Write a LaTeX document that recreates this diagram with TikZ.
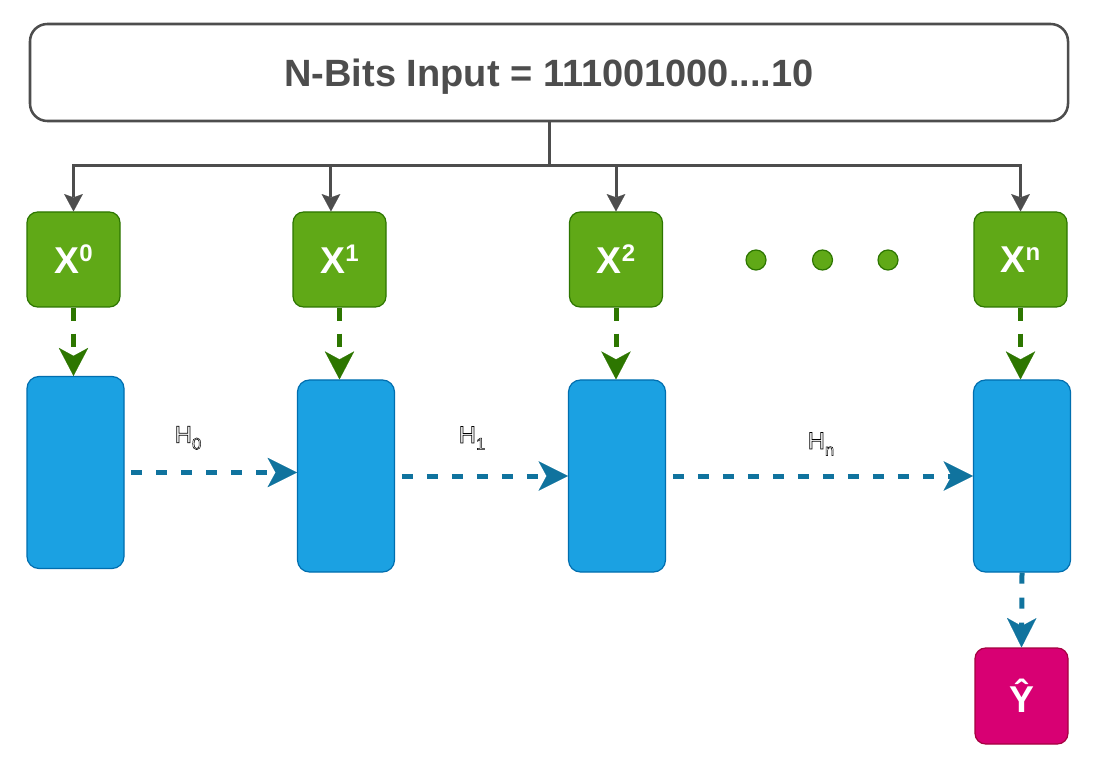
\documentclass[tikz,border=0pt]{standalone}
\usepackage{fontspec}
\setmainfont{Liberation Sans}
\newfontfamily\hfont{Liberation Sans}[FakeBold=3]
\usetikzlibrary{arrows.meta}
\definecolor{cgray}{HTML}{4D4D4D}
\definecolor{gfill}{HTML}{60A917}
\definecolor{gdraw}{HTML}{2D7600}
\definecolor{bfill}{HTML}{1BA1E2}
\definecolor{bdraw}{HTML}{006EAF}
\definecolor{barrow}{HTML}{10739E}
\definecolor{mfill}{HTML}{D80073}
\definecolor{mdraw}{HTML}{A50040}
\newcommand{\xsup}[2]{X\raisebox{9pt}{\fontsize{18}{20}\selectfont #2}}
\newcommand{\hlab}[1]{\color{white}\special{pdf:literal direct 0 0 0 RG}\hfont\fontsize{18}{20}\selectfont H\raisebox{-5pt}{\fontsize{12.5}{14}\selectfont #1}}
\tikzset{
  topbox/.style={draw=cgray, line width=1.9pt, rounded corners=13pt, fill=white,
    minimum width=778.5pt, minimum height=72.75pt, inner sep=0pt, text depth=0pt,
    text=cgray, font=\fontsize{28.5}{34}\selectfont\bfseries},
  gbox/.style={fill=gfill, draw=gdraw, line width=0.9pt, rounded corners=8pt,
    minimum width=69.75pt, minimum height=71.25pt, inner sep=0pt,
    text=white, font=\fontsize{28}{34}\selectfont\bfseries},
  bbox/.style={fill=bfill, draw=bdraw, line width=0.9pt, rounded corners=9pt,
    minimum width=72.75pt, minimum height=144pt, inner sep=0pt},
  ybox/.style={fill=mfill, draw=mdraw, line width=0.9pt, rounded corners=8pt,
    minimum width=69.75pt, minimum height=72pt, inner sep=0pt,
    text=white, font=\fontsize{28}{32}\selectfont\bfseries},
  gdot/.style={circle, fill=gfill, draw=gdraw, line width=0.9pt, minimum size=15pt, inner sep=0pt},
  treeline/.style={draw=cgray, line width=2.25pt},
  treearrow/.style={draw=cgray, line width=2.25pt,
    -{Stealth[length=13pt,width=14pt,inset=2.5pt,line width=0.1pt]}},
  garrow/.style={draw=gdraw, line width=3.75pt, dash pattern=on 9.75pt off 9.75pt,
    -{Stealth[length=21pt,width=22pt,inset=6pt,line width=0.1pt]}},
  barrowstyle/.style={draw=barrow, line width=3.75pt, dash pattern=on 8.25pt off 10.5pt,
    -{Stealth[length=22pt,width=22pt,inset=6pt,line width=0.1pt]}},
  hlabel/.style={inner sep=0pt},
}
\begin{document}
\begin{tikzpicture}[x=0.75pt,y=-0.75pt]
\useasboundingbox[fill=white] (0,0) rectangle (1105,762);
% top input box
\node[topbox] (top) at (549,72.5) {N-Bits Input = 111001000....10};
% green input boxes
\node[gbox] (g0) at (73.5,259.5) {\xsup{X}{0}};
\node[gbox] (g1) at (339.5,259.5) {\xsup{X}{1}};
\node[gbox] (g2) at (616,259.5) {\xsup{X}{2}};
\node[gbox] (gn) at (1020.5,259.5) {\xsup{X}{n}};
% dots
\node[gdot] (d1) at (756,260) {};
\node[gdot] (d2) at (822.5,260) {};
\node[gdot] (d3) at (888,260) {};
% blue boxes
\node[bbox] (b0) at (75.5,472.5) {};
\node[bbox] (b1) at (346,476) {};
\node[bbox] (b2) at (617,476) {};
\node[bbox] (bn) at (1022,476) {};
% output
\node[ybox] (y) at (1021.5,696) {Ŷ};
% tree
\coordinate (hub) at (549,166);
\coordinate (t1) at ([xshift=-6.4pt]g1.north);
\draw[treeline] (top.south) -- (hub);
\draw[treeline, line cap=rect] (hub -| g0.north) -- (hub -| gn.north);
\draw[treearrow] (hub -| g0.north) -- (g0.north);
\draw[treearrow] (hub -| t1) -- (t1);
\draw[treearrow] (hub -| g2.north) -- (g2.north);
\draw[treearrow] (hub -| gn.north) -- (gn.north);
% green dashed arrows
\draw[garrow] (g0.south) -- (g0.south |- b0.north);
\draw[garrow] (g1.south) -- (g1.south |- b1.north);
\draw[garrow] (g2.south) -- (g2.south |- b2.north);
\draw[garrow] (gn.south) -- (gn.south |- bn.north);
% blue dashed arrows
\draw[barrowstyle, shorten <=5pt] (b0.east) -- (b0.east -| b1.west);
\draw[barrowstyle, shorten <=5pt] (b1.east) -- (b2.west);
\draw[barrowstyle, shorten <=5pt] (b2.east) -- (bn.west);
\draw[barrowstyle] (bn.south) -- (y.north);
% labels
\node[hlabel] (h0) at (188,438) {\hlab{0}};
\node[hlabel] (h1) at (472,438) {\hlab{1}};
\node[hlabel] (hn) at (821,444) {\hlab{n}};
\end{tikzpicture}
\end{document}
